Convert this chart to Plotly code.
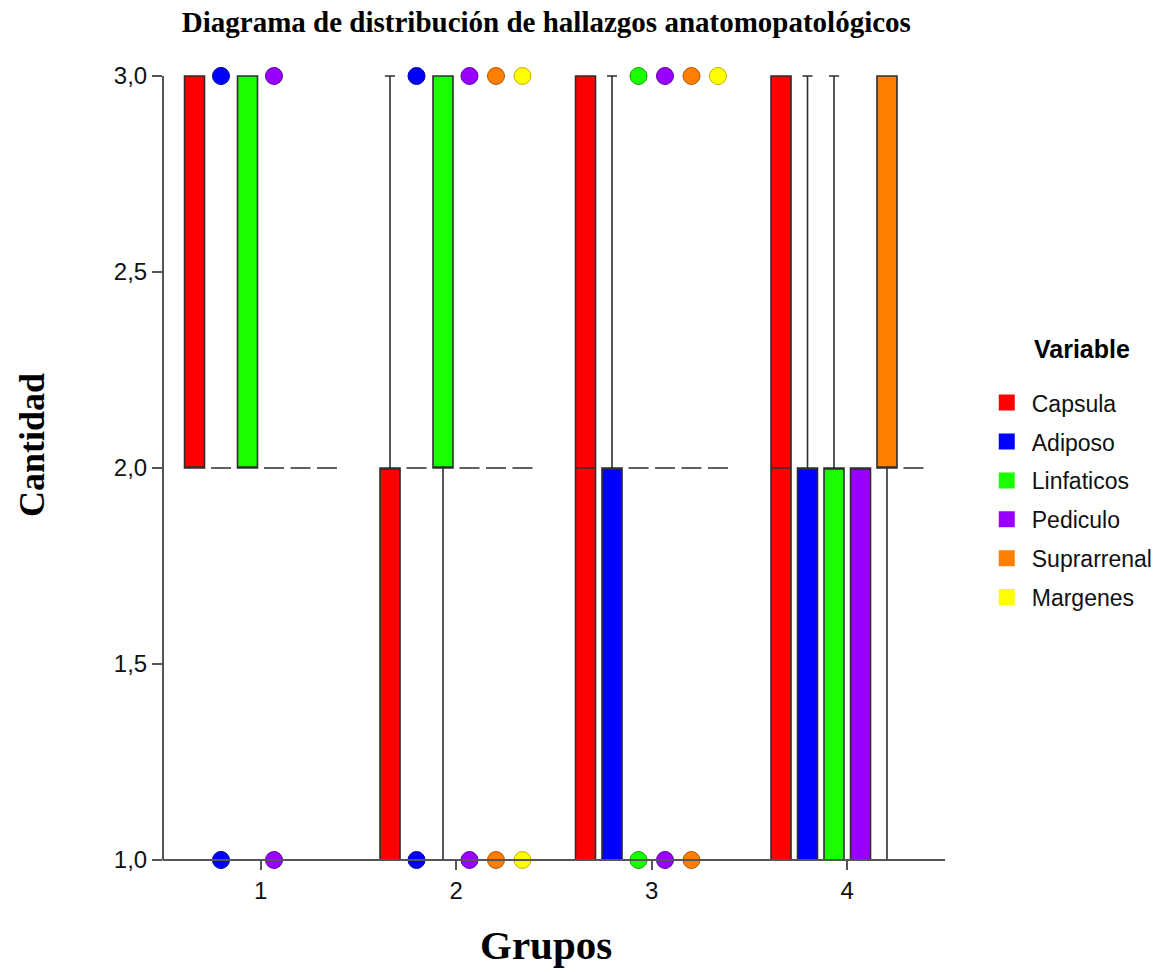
import plotly.graph_objects as go

# Groups on the x axis
groups = [1, 2, 3, 4]

# Variables and their colours
variables = ["Capsula", "Adiposo", "Linfaticos", "Pediculo", "Suprarrenal", "Margenes"]
colors = ["#ff0000", "#0000ff", "#1aff00", "#9900ff", "#ff8000", "#ffff00"]
edge_colors = ["#b00000", "#0000a0", "#10a000", "#6000a0", "#b05800", "#c0b000"]

# Box statistics per variable, one value per group
q1 = {
    "Capsula":     [2, 1, 1, 1],
    "Adiposo":     [2, 2, 1, 1],
    "Linfaticos":  [2, 2, 2, 1],
    "Pediculo":    [2, 2, 2, 1],
    "Suprarrenal": [2, 2, 2, 2],
    "Margenes":    [2, 2, 2, 2],
}
median = {
    "Capsula":     [2, 2, 2, 2],
    "Adiposo":     [2, 2, 2, 2],
    "Linfaticos":  [2, 2, 2, 2],
    "Pediculo":    [2, 2, 2, 2],
    "Suprarrenal": [2, 2, 2, 2],
    "Margenes":    [2, 2, 2, 2],
}
q3 = {
    "Capsula":     [3, 2, 3, 3],
    "Adiposo":     [2, 2, 2, 2],
    "Linfaticos":  [3, 3, 2, 2],
    "Pediculo":    [2, 2, 2, 2],
    "Suprarrenal": [2, 2, 2, 3],
    "Margenes":    [2, 2, 2, 2],
}
lowerfence = {
    "Capsula":     [2, 1, 1, 1],
    "Adiposo":     [2, 2, 1, 1],
    "Linfaticos":  [2, 1, 2, 1],
    "Pediculo":    [2, 2, 2, 1],
    "Suprarrenal": [2, 2, 2, 1],
    "Margenes":    [2, 2, 2, 2],
}
upperfence = {
    "Capsula":     [3, 3, 3, 3],
    "Adiposo":     [2, 2, 3, 3],
    "Linfaticos":  [3, 3, 2, 3],
    "Pediculo":    [2, 2, 2, 2],
    "Suprarrenal": [2, 2, 2, 3],
    "Margenes":    [2, 2, 2, 2],
}
# Outlying observations per variable and group
outliers = {
    "Capsula":     [[], [], [], []],
    "Adiposo":     [[1, 3], [1, 3], [], []],
    "Linfaticos":  [[], [], [1, 3], []],
    "Pediculo":    [[1, 3], [1, 3], [1, 3], []],
    "Suprarrenal": [[], [1, 3], [1, 3], []],
    "Margenes":    [[], [1, 3], [3], []],
}

y_tickvals = [1, 1.5, 2, 2.5, 3]
y_ticktext = ["1,0", "1,5", "2,0", "2,5", "3,0"]
x_ticktext = ["1", "2", "3", "4"]

LINE = "#2e2e2e"
AXIS = "#555555"
SANS = "Arial, Liberation Sans, sans-serif"
SERIF = "Liberation Serif, Times New Roman, serif"

fig = go.Figure()

for var, col, edge in zip(variables, colors, edge_colors):
    # empty groups get a blank placeholder so every box keeps a sample row
    pts = [vals if vals else [None] for vals in outliers[var]]
    fig.add_trace(go.Box(
        name=var,
        x=groups,
        y=pts,
        q1=q1[var],
        median=median[var],
        q3=q3[var],
        lowerfence=lowerfence[var],
        upperfence=upperfence[var],
        orientation="v",
        boxpoints="outliers",
        jitter=0,
        pointpos=0,
        whiskerwidth=0.5,
        fillcolor=col,
        line=dict(color=LINE, width=1.6),
        marker=dict(color=col, size=17, line=dict(color=edge, width=1)),
        showlegend=False,
        hoverinfo="skip",
    ))

# Legend entries drawn as plain coloured squares
for i, (var, col) in enumerate(zip(variables, colors)):
    fig.add_trace(go.Scatter(
        x=[None], y=[None], mode="markers", name=var,
        legendgroup=f"g{i}",
        marker=dict(symbol="square", color=col, size=18, line=dict(width=0)),
    ))

fig.update_layout(
    width=1170, height=972,
    margin=dict(l=163, r=225, t=66, b=102, autoexpand=False),
    paper_bgcolor="white", plot_bgcolor="white",
    boxmode="group", boxgap=0.187, boxgroupgap=0.245,
    showlegend=True,
    legend=dict(
        x=1.047, y=0.608, xanchor="left", yanchor="top",
        font=dict(family=SANS, size=23, color="#111111"),
        tracegroupgap=6, itemwidth=40,
        bgcolor="rgba(0,0,0,0)",
    ),
    title=dict(
        text="<b>Diagrama de distribución de hallazgos anatomopatológicos</b>",
        font=dict(family=SERIF, size=29, color="black"),
        x=0.467, xanchor="center", xref="container",
        y=0.988, yanchor="top", yref="container",
    ),
    xaxis=dict(
        range=[0.5, 4.5], tickvals=groups, ticktext=x_ticktext,
        ticks="inside", ticklen=10, tickwidth=2, tickcolor=AXIS,
        ticklabelstandoff=4,
        showline=False, showgrid=False, zeroline=False,
        tickfont=dict(family=SANS, size=24, color="#111111"),
    ),
    yaxis=dict(
        range=[0.9745, 3.0255], tickvals=y_tickvals, ticktext=y_ticktext,
        ticks="outside", ticklen=10, tickwidth=2, tickcolor=AXIS,
        showline=False, showgrid=False, zeroline=False,
        tickfont=dict(family=SANS, size=24, color="#111111"),
    ),
    shapes=[
        dict(type="line", xref="paper", yref="y", x0=0, x1=0, y0=1, y1=3,
             line=dict(color=AXIS, width=2)),
        dict(type="line", xref="paper", yref="y", x0=0, x1=1, y0=1, y1=1,
             line=dict(color=AXIS, width=2)),
    ],
    annotations=[
        dict(text="<b>Cantidad</b>", xref="paper", yref="paper", x=-0.1675, y=0.5286,
             xanchor="center", yanchor="middle", textangle=-90, showarrow=False,
             font=dict(family=SERIF, size=36, color="black")),
        dict(text="<b>Grupos</b>", xref="paper", yref="paper", x=0.49, y=-0.0933,
             xanchor="center", yanchor="middle", showarrow=False,
             font=dict(family=SERIF, size=41, color="black")),
        dict(text="<b>Variable</b>", xref="paper", yref="paper", x=1.175, y=0.648,
             xanchor="center", yanchor="middle", showarrow=False,
             font=dict(family=SANS, size=25, color="black")),
    ],
)

fig.write_html("out.html")
